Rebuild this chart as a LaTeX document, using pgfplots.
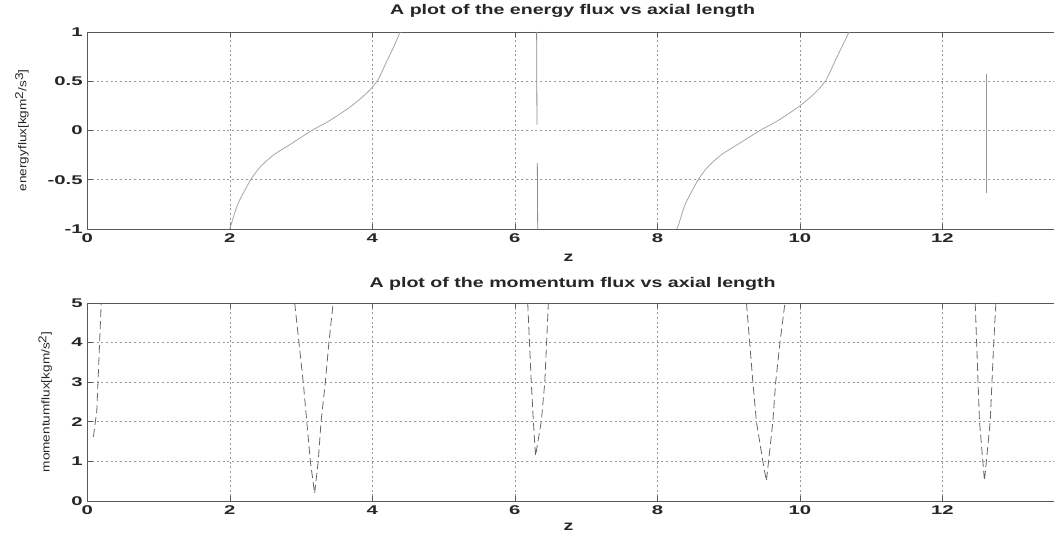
\documentclass[border=0pt]{standalone}
\usepackage{pgfplots}
\pgfplotsset{compat=1.18}
\usepackage{fontspec}
\setmainfont{Liberation Sans}
\newfontfamily\tickf[FakeStretch=1.6]{Liberation Sans}
\newfontfamily\titf[FakeStretch=1.4]{Liberation Sans}
\newfontfamily\labf[FakeStretch=1.2]{Liberation Sans}
\begin{document}
\begin{tikzpicture}
\useasboundingbox (0,0) rectangle (790.5pt,401.25pt);
\pgfplotsset{
  mstyle/.style={
    scale only axis, width=727.9pt, xmin=0, xmax=13.62,
    axis y line*=left,
    xtick={0,2,...,12},
    grid=major,
    major grid style={black!40, dash pattern=on 1.5pt off 2pt, line width=0.5pt},
    axis line style={black!65, line width=0.6pt},
    tick style={black!65, line width=0.5pt},
    major tick length=4pt,
    tick label style={font=\tickf\bfseries\fontsize{9.5}{10}\selectfont, text=black!85},
    /pgf/number format/assume math mode=true,
    title style={font=\titf\bfseries\fontsize{10.5}{12}\selectfont, anchor=base, text=black!85},
    xlabel={z},
    xlabel style={font=\titf\bfseries\fontsize{10.5}{12}\selectfont, anchor=base, text=black!85},
    ylabel style={font=\labf\fontsize{8.5}{10}\selectfont, anchor=center, text=black!85},
  }
}
\begin{axis}[mstyle, at={(65.5pt,229.5pt)}, anchor=south west, height=147.75pt,
  ymin=-1, ymax=1, ytick={-1,-0.5,0,0.5,1},
  title={A plot of the energy flux vs axial length},
  title style={at={(axis description cs:0.5,1.047)}},
  xlabel style={at={(axis description cs:0.4957,-0.1675)}},
  ylabel={energyflux[kgm\raisebox{0.55ex}{2}/s\raisebox{0.55ex}{3}]},
  ylabel style={at={(axis description cs:-0.0673,0.5)}}]
\addplot[black!35, line width=0.6pt, smooth] coordinates {
 (2.0,-1) (2.02,-0.95) (2.11,-0.75) (2.23,-0.58) (2.32,-0.47) (2.44,-0.36)
 (2.62,-0.245) (2.85,-0.14) (3.15,0) (3.40,0.10) (3.68,0.235) (3.86,0.34)
 (4.0,0.44) (4.09,0.53) (4.2,0.70) (4.3,0.85) (4.39,1.0)};
\addplot[black!35, line width=0.6pt, smooth] coordinates {
 (8.27,-1) (8.30,-0.95) (8.39,-0.75) (8.51,-0.58) (8.60,-0.47) (8.72,-0.36)
 (8.90,-0.245) (9.13,-0.14) (9.44,0) (9.69,0.10) (9.97,0.235) (10.15,0.34)
 (10.29,0.44) (10.38,0.53) (10.49,0.70) (10.59,0.85) (10.69,1.0)};
\addplot[black!45, line width=0.6pt] coordinates {(6.305,1) (6.31,0.06)};
\addplot[black!45, line width=0.6pt] coordinates {(6.315,-0.33) (6.32,-1)};
\addplot[black!40, line width=0.6pt] coordinates {(12.61,0.57) (12.61,-0.63)};
\end{axis}
\begin{axis}[mstyle, at={(65.5pt,25.5pt)}, anchor=south west, height=148.5pt,
  ymin=0, ymax=5, ytick={0,1,2,3,4,5},
  title={A plot of the momentum flux vs axial length},
  title style={at={(axis description cs:0.5,1.040)}},
  xlabel style={at={(axis description cs:0.4957,-0.149)}},
  ylabel={momentumflux[kgm/s\raisebox{0.55ex}{2}]},
  ylabel style={at={(axis description cs:-0.0433,0.5)}}]
\addplot[black!60, line width=0.6pt, dash pattern=on 6pt off 3pt] coordinates {
 (0.086,1.62) (0.133,2.28) (0.195,5)};
\addplot[black!60, line width=0.6pt, dash pattern=on 6pt off 3pt] coordinates {
 (2.91,5) (2.97,4) (3.03,3) (3.08,2) (3.13,1) (3.19,0.19) (3.24,1) (3.28,2) (3.34,3) (3.39,4) (3.45,5)};
\addplot[black!60, line width=0.6pt, dash pattern=on 6pt off 3pt] coordinates {
 (6.18,5) (6.23,3) (6.26,2) (6.29,1.14) (6.37,2) (6.42,3) (6.47,5)};
\addplot[black!60, line width=0.6pt, dash pattern=on 6pt off 3pt] coordinates {
 (9.25,5) (9.34,3) (9.39,2) (9.48,1) (9.53,0.51) (9.56,1) (9.62,2) (9.66,3) (9.72,4) (9.79,5)};
\addplot[black!60, line width=0.6pt, dash pattern=on 6pt off 3pt] coordinates {
 (12.46,5) (12.48,4) (12.52,2) (12.59,0.51) (12.67,2) (12.72,4) (12.75,5)};
\end{axis}
\end{tikzpicture}
\end{document}
